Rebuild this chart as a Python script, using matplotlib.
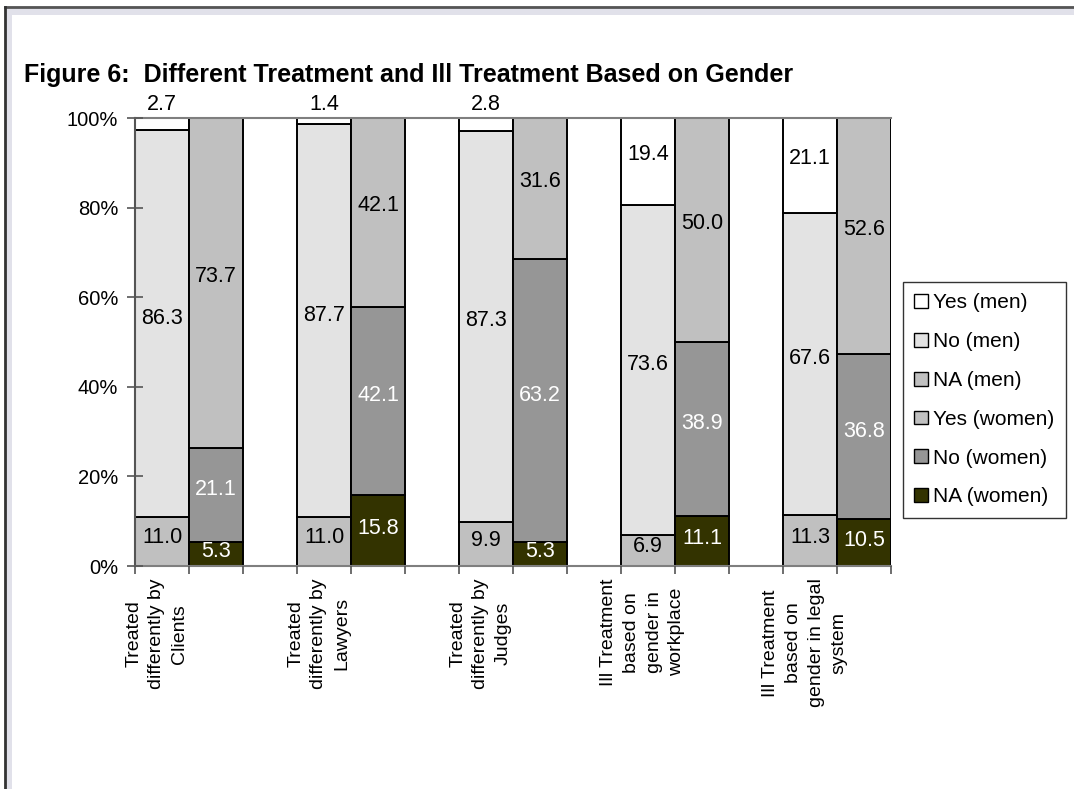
import matplotlib
matplotlib.use("Agg")
import matplotlib.pyplot as plt
from matplotlib.patches import Rectangle, Patch
from matplotlib.lines import Line2D
import numpy as np

plt.rcParams['font.family'] = ['Liberation Sans', 'DejaVu Sans']

categories = ["Treated\ndifferently by\nClients",
              "Treated\ndifferently by\nLawyers",
              "Treated\ndifferently by\nJudges",
              "Ill Treatment\nbased on\ngender in\nworkplace",
              "Ill Treatment\nbased on\ngender in legal\nsystem"]
men_yes = [2.7, 1.4, 2.8, 19.4, 21.1]
men_no = [86.3, 87.7, 87.3, 73.6, 67.6]
men_na = [11.0, 11.0, 9.9, 6.9, 11.3]
women_yes = [73.7, 42.1, 31.6, 50.0, 52.6]
women_no = [21.1, 42.1, 63.2, 38.9, 36.8]
women_na = [5.3, 15.8, 5.3, 11.1, 10.5]
legend_labels = ["Yes (men)", "No (men)", "NA (men)",
                 "Yes (women)", "No (women)", "NA (women)"]
title = "Figure 6:  Different Treatment and Ill Treatment Based on Gender"

c_yes_m = "#FFFFFF"
c_no_m = "#E3E3E3"
c_na_m = "#C0C0C0"
c_yes_w = "#C0C0C0"
c_no_w = "#969696"
c_na_w = "#333300"

W, H = 1074, 789
fig = plt.figure(figsize=(W / 100, H / 100), dpi=100)

# frame decoration
fig.patches.append(Rectangle((5 / W, 0), 1, (H - 6) / H, transform=fig.transFigure,
                             facecolor="#E1E1EA", edgecolor="none", zorder=-10))
fig.patches.append(Rectangle((12 / W, 0), 1, (H - 15) / H, transform=fig.transFigure,
                             facecolor="white", edgecolor="none", zorder=-9))
fig.lines.append(Line2D([5 / W, 1], [1 - 7 / H, 1 - 7 / H], transform=fig.transFigure,
                        color="#555555", lw=2, zorder=-8))
fig.lines.append(Line2D([5 / W, 5 / W], [0, 1 - 7 / H], transform=fig.transFigure,
                        color="#333333", lw=2, zorder=-8))

ax = fig.add_axes([135 / W, 1 - 566 / H, (891 - 135) / W, (566 - 118) / H])
ax.set_facecolor("none")
ax.set_axisbelow(False)

n = len(categories)
x_men = np.arange(n) * 3 + 0.5
x_wom = x_men + 1.0


def norm(*cols):
    arr = np.array(cols, dtype=float)
    return arr / arr.sum(axis=0) * 100.0


m_na, m_no, m_yes = norm(men_na, men_no, men_yes)
w_na, w_no, w_yes = norm(women_na, women_no, women_yes)

kw = dict(width=1.0, edgecolor="black", linewidth=1.4, zorder=2)
ax.bar(x_men, m_na, color=c_na_m, **kw)
ax.bar(x_men, m_no, bottom=m_na, color=c_no_m, **kw)
ax.bar(x_men, m_yes, bottom=m_na + m_no, color=c_yes_m, **kw)
ax.bar(x_wom, w_na, color=c_na_w, **kw)
ax.bar(x_wom, w_no, bottom=w_na, color=c_no_w, **kw)
ax.bar(x_wom, w_yes, bottom=w_na + w_no, color=c_yes_w, **kw)

fs_lab = 15.5
for i in range(n):
    # men
    ax.text(x_men[i], m_na[i] / 2 + 0.8, f"{men_na[i]:.1f}", ha="center", va="center",
            fontsize=fs_lab, color="black", zorder=5)
    ax.text(x_men[i], m_na[i] + m_no[i] / 2 + 1.2, f"{men_no[i]:.1f}", ha="center", va="center",
            fontsize=fs_lab, color="black", zorder=5)
    if men_yes[i] < 5:
        ax.text(x_men[i], 100 + 0.6, f"{men_yes[i]:.1f}", ha="center", va="bottom",
                fontsize=fs_lab, color="black", zorder=5, clip_on=False)
    else:
        ax.text(x_men[i], m_na[i] + m_no[i] + m_yes[i] / 2 + 1.5, f"{men_yes[i]:.1f}",
                ha="center", va="center", fontsize=fs_lab, color="black", zorder=5)
    # women
    ax.text(x_wom[i], w_na[i] / 2 + 0.5, f"{women_na[i]:.1f}", ha="center", va="center",
            fontsize=fs_lab, color="white", zorder=5)
    ax.text(x_wom[i], w_na[i] + w_no[i] / 2 + 1.2, f"{women_no[i]:.1f}", ha="center", va="center",
            fontsize=fs_lab, color="white", zorder=5)
    ax.text(x_wom[i], w_na[i] + w_no[i] + w_yes[i] / 2 + 1.5, f"{women_yes[i]:.1f}",
            ha="center", va="center", fontsize=fs_lab, color="black", zorder=5)

ax.set_xlim(0, 3 * n - 1)
ax.set_ylim(0, 100)
ax.set_yticks(np.arange(0, 101, 20))
ax.set_yticklabels([f"{v}%" for v in range(0, 101, 20)], fontsize=14.5)

ax.set_xticks(np.arange(0, 3 * n), minor=True)
ax.set_xticks(x_men - 0.1)
ax.set_xticklabels(categories, rotation=90, fontsize=14, ha="center", va="top",
                   multialignment="center", linespacing=1.45)
ax.tick_params(axis="x", which="major", length=0, pad=9)
ax.tick_params(axis="x", which="minor", length=6, color="#555555", width=1.2)
ax.tick_params(axis="y", direction="inout", length=12, color="#555555", width=1.2, pad=6)

for s in ["right"]:
    ax.spines[s].set_visible(False)
for s in ["top", "bottom", "left"]:
    ax.spines[s].set_color("#7F7F7F")
    ax.spines[s].set_linewidth(1.5)
ax.spines["left"].set_color("#555555")

handles = [Patch(facecolor=c, edgecolor="black", linewidth=1.0)
           for c in [c_yes_m, c_no_m, c_na_m, c_yes_w, c_no_w, c_na_w]]
leg = fig.legend(handles, legend_labels, loc="upper left",
                 bbox_to_anchor=(903 / W, 1 - 282 / H), fontsize=15,
                 frameon=True, fancybox=False, edgecolor="black",
                 handlelength=0.65, handleheight=0.65, handletextpad=0.25,
                 labelspacing=0.95, borderpad=0.55, borderaxespad=0)
leg.get_frame().set_linewidth(1.0)

fig.text(24 / W, 1 - 75 / H, title, fontsize=18, fontweight="bold",
         ha="left", va="center")

fig.savefig("out.png", dpi=100)
